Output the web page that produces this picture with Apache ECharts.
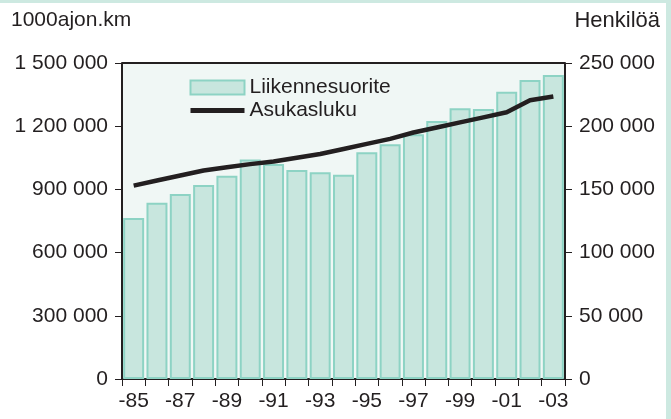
<!DOCTYPE html>
<html>
<head>
<meta charset="utf-8">
<script src="https://cdn.jsdelivr.net/npm/echarts@6/dist/echarts.min.js"></script>
<style>
  html, body { margin: 0; padding: 0; background: #fff; }
  #chart { width: 671px; height: 419px; }
</style>
</head>
<body>
<div id="chart"></div>
<script>
// vuodet ja arvot luettu kuvasta
var years = ['-85', '-86', '-87', '-88', '-89', '-90', '-91', '-92', '-93', '-94',
  '-95', '-96', '-97', '-98', '-99', '-00', '-01', '-02', '-03'];
var liikennesuorite = [764000, 837000, 878000, 921000, 965000, 1042000, 1020000, 992000, 981000, 969000,
  1076000, 1114000, 1162000, 1225000, 1285000, 1282000, 1364000, 1419000, 1443000];
var asukasluku = [153000, 157000, 161000, 165000, 167500, 170000, 172000, 175000, 178000, 182000,
  186000, 190000, 195000, 199000, 203000, 207000, 211000, 220500, 223500];
var leftTicks = [0, 300000, 600000, 900000, 1200000, 1500000];
var rightTicks = [0, 50000, 100000, 150000, 200000, 250000];

var textColor = '#231f20';
var fontFamily = 'Liberation Sans, Arial, sans-serif';
var fs = 21;

function spaced(v) {
  return String(v).replace(/\B(?=(\d{3})+(?!\d))/g, ' ');
}

var chart = echarts.init(document.getElementById('chart'));

chart.setOption({
  animation: false,
  textStyle: { fontFamily: fontFamily, color: textColor },
  graphic: [
    { type: 'rect', left: 0, top: 0, shape: { width: 671, height: 3 }, style: { fill: '#cde9e1' } },
    { type: 'rect', left: 666, top: 0, shape: { width: 5, height: 419 }, style: { fill: '#cde9e1' } },
    { type: 'text', left: 11, top: 10, style: { text: '1000ajon.km', fontSize: fs, fontFamily: fontFamily, fill: textColor } },
    { type: 'text', right: 11, top: 10, style: { text: 'Henkilöä', fontSize: 22, fontFamily: fontFamily, fill: textColor } }
  ],
  grid: {
    left: 122, right: 106, top: 63, bottom: 40,
    show: true,
    backgroundColor: '#f0f7f5',
    borderWidth: 0
  },
  legend: {
    left: 183, top: 72,
    orient: 'vertical',
    itemWidth: 54, itemHeight: 14, itemGap: 2,
    textStyle: { fontSize: fs, color: textColor, fontFamily: fontFamily },
    data: [
      { name: 'Liikennesuorite', icon: 'rect' },
      { name: 'Asukasluku', itemStyle: { opacity: 0 }, lineStyle: { width: 5, color: textColor } }
    ]
  },
  xAxis: {
    type: 'category',
    data: years,
    axisLine: { lineStyle: { color: textColor, width: 2 } },
    axisTick: { show: true, interval: 0, length: 7, lineStyle: { color: textColor, width: 1 } },
    axisLabel: { interval: 1, fontSize: fs, color: textColor, margin: 12 }
  },
  yAxis: [
    {
      type: 'value',
      min: 0, max: 1500000, interval: 300000,
      axisLine: { show: true, lineStyle: { color: textColor, width: 2 } },
      axisTick: { show: true, length: 7, lineStyle: { color: textColor } },
      axisLabel: { fontSize: fs, color: textColor, margin: 14, formatter: spaced },
      splitLine: { show: false }
    },
    {
      type: 'value',
      min: 0, max: 250000, interval: 50000,
      position: 'right',
      axisLine: { show: true, lineStyle: { color: textColor, width: 2 } },
      axisTick: { show: true, length: 7, lineStyle: { color: textColor } },
      axisLabel: { fontSize: fs, color: textColor, margin: 14, formatter: spaced },
      splitLine: { show: false }
    }
  ],
  series: [
    {
      name: 'Liikennesuorite',
      type: 'bar',
      data: liikennesuorite,
      yAxisIndex: 0,
      barWidth: '90%',
      itemStyle: { color: '#c8e6de', borderColor: '#8dd3c4', borderWidth: 2 },
      markLine: {
        silent: true, symbol: 'none', label: { show: false },
        lineStyle: { color: textColor, width: 2, type: 'solid' },
        data: [{ yAxis: leftTicks[leftTicks.length - 1] }]
      }
    },
    {
      name: 'Asukasluku',
      type: 'line',
      data: asukasluku,
      yAxisIndex: 1,
      symbol: 'none',
      lineStyle: { color: textColor, width: 4.5 },
      itemStyle: { color: textColor }
    }
  ]
});
</script>
</body>
</html>
